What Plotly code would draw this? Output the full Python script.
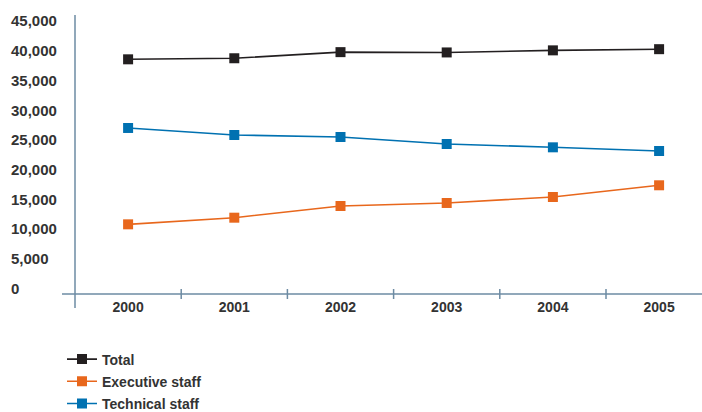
import plotly.graph_objects as go

years = ["2000", "2001", "2002", "2003", "2004", "2005"]
total = [38540, 38720, 39750, 39700, 40050, 40250]
executive = [10730, 11850, 13820, 14330, 15340, 17310]
technical = [26970, 25790, 25450, 24270, 23710, 23090]

y_ticks = [0, 5000, 10000, 15000, 20000, 25000, 30000, 35000, 40000, 45000]

W, H = 702, 412
M_L, M_R, M_T, M_B = 75, 0, 15, 118
plot_w = W - M_L - M_R
plot_h = H - M_T - M_B

AXIS = "#6d8ba3"
TEXT = "#333333"
FONT = "Liberation Sans"

series = [
    ("Total", total, "#231f20"),
    ("Executive staff", executive, "#e8671c"),
    ("Technical staff", technical, "#0071b1"),
]

fig = go.Figure()
for name, vals, col in series:
    fig.add_trace(go.Scatter(
        x=years, y=vals, name=name, mode="lines+markers",
        legendgroup=name,
        line=dict(color=col, width=1.6),
        marker=dict(symbol="square", size=10, color=col),
    ))

# y tick labels, left aligned at the page edge
for v in y_ticks:
    fig.add_annotation(
        x=(9 - M_L) / plot_w, xref="paper", y=v, yref="y",
        text=f"{v:,}", showarrow=False, xanchor="left", yanchor="middle",
        font=dict(family=FONT, size=15, color=TEXT, weight="bold"),
    )

shapes = []
# vertical axis line, running past the horizontal axis
shapes.append(dict(type="line", xref="paper", yref="paper",
                   x0=0, x1=0, y0=1, y1=-14 / plot_h,
                   line=dict(color=AXIS, width=1.5)))
# horizontal axis line, starting slightly left of the vertical axis
shapes.append(dict(type="line", xref="paper", yref="paper",
                   x0=-13 / plot_w, x1=1, y0=0, y1=0,
                   line=dict(color=AXIS, width=1.5)))
# tick marks at category boundaries
for i in range(len(years) - 1):
    shapes.append(dict(type="line", xref="x", yref="paper",
                       x0=i + 0.5, x1=i + 0.5, y0=5 / plot_h, y1=-5 / plot_h,
                       line=dict(color=AXIS, width=1.5)))

x_hi = -0.5 + plot_w / 106.2
fig.update_layout(
    width=W, height=H,
    margin=dict(l=M_L, r=M_R, t=M_T, b=M_B, autoexpand=False),
    paper_bgcolor="white", plot_bgcolor="white",
    shapes=shapes,
    showlegend=True,
    legend=dict(
        x=(62 - M_L) / plot_w, xanchor="left",
        y=-(343.5 - (H - M_B)) / plot_h, yanchor="top",
        font=dict(family=FONT, size=14, color=TEXT, weight="bold"),
        bgcolor="rgba(0,0,0,0)",
        itemwidth=30,
        tracegroupgap=1,
    ),
    xaxis=dict(
        type="category", range=[-0.5, x_hi],
        showline=False, showgrid=False, zeroline=False, ticks="",
        ticklabelstandoff=3,
        tickfont=dict(family=FONT, size=14, color=TEXT, weight="bold"),
    ),
    yaxis=dict(
        range=[-1011, 46010],
        showline=False, showgrid=False, zeroline=False,
        showticklabels=False, ticks="",
    ),
)

fig.write_html("out.html")
